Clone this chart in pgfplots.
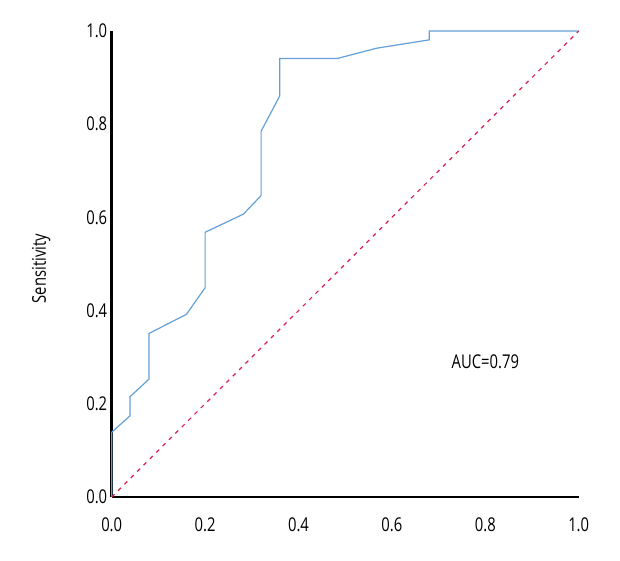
\documentclass[border=0pt]{standalone}
\usepackage{fontspec}
\setmainfont{Open Sans}[FakeStretch=0.78]
\usepackage{pgfplots}
\pgfplotsset{compat=1.18}
\definecolor{rocblue}{RGB}{100,160,215}
\definecolor{diagred}{RGB}{220,30,80}
\begin{document}
\begin{tikzpicture}
\useasboundingbox (-111.7pt,-63pt) rectangle (508.3pt,497pt);
\begin{axis}[
  at={(0,0)}, anchor=origin,
  scale only axis, width=467pt, height=466pt,
  xmin=0, xmax=1, ymin=0, ymax=1,
  axis lines=left,
  axis line style={line width=2.6pt, -},
  major tick length=0pt,
  xtick={0,0.2,0.4,0.6,0.8,1.0},
  ytick={0,0.2,0.4,0.6,0.8,1.0},
  /pgf/number format/assume math mode=true,
  /pgf/number format/fixed, /pgf/number format/fixed zerofill, /pgf/number format/precision=1,
  ticklabel style={font=\fontsize{19}{21}\selectfont},
  xticklabel style={yshift=-17pt},
  yticklabel style={xshift=-1pt},
  clip=false,
]
\addplot[rocblue, line width=1.2pt] coordinates {
(0,0) (0,0.139) (0.039,0.174) (0.039,0.215) (0.080,0.253) (0.080,0.351)
(0.16,0.392) (0.20,0.449) (0.20,0.568) (0.282,0.607) (0.32,0.647)
(0.32,0.785) (0.36,0.861) (0.36,0.941) (0.483,0.941) (0.567,0.963)
(0.68,0.981) (0.68,1.0) (1.0,1.0)
};
\addplot[diagred, line width=1.2pt, dash pattern=on 4pt off 5pt] coordinates {(0,0) (1,1)};
\node[font=\fontsize{19}{21}\selectfont] at (axis cs:0.80,0.29) {AUC=0.79};
\node[font=\fontsize{19}{21}\selectfont, rotate=90] at (axis cs:-0.151,0.49) {Sensitivity};
\end{axis}
\end{tikzpicture}
\end{document}
